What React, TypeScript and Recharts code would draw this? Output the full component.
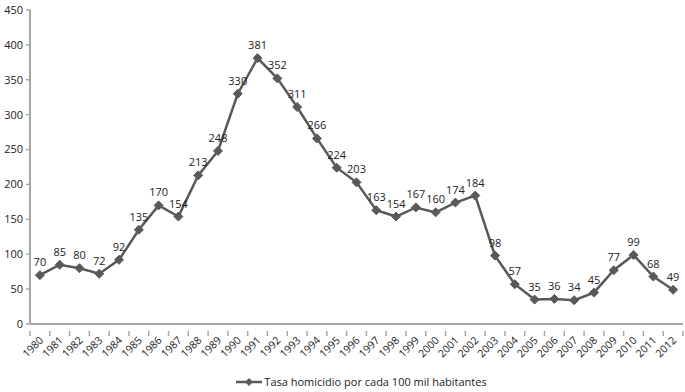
import { LineChart, Line, XAxis, YAxis, LabelList, Legend } from "recharts";

const years = [
  "1980", "1981", "1982", "1983", "1984", "1985", "1986", "1987", "1988", "1989",
  "1990", "1991", "1992", "1993", "1994", "1995", "1996", "1997", "1998", "1999",
  "2000", "2001", "2002", "2003", "2004", "2005", "2006", "2007", "2008", "2009",
  "2010", "2011", "2012",
];

const rates = [
  70, 85, 80, 72, 92, 135, 170, 154, 213, 248,
  330, 381, 352, 311, 266, 224, 203, 163, 154, 167,
  160, 174, 184, 98, 57, 35, 36, 34, 45, 77,
  99, 68, 49,
];

const yTicks = [0, 50, 100, 150, 200, 250, 300, 350, 400, 450];

const seriesName = "Tasa homicidio por cada 100 mil habitantes";

const data = years.map((year, i) => ({ year, value: rates[i] }));

const FONT = "'Open Sans', sans-serif";
const LINE = "#595959";
const AXIS = "#a6a6a6";
const BAND = 653 / years.length;

const Diamond = ({ cx, cy }: any) => {
  if (cx == null || cy == null) return null;
  const r = 4.5;
  return (
    <path
      d={`M${cx},${cy - r} L${cx + r},${cy} L${cx},${cy + r} L${cx - r},${cy} Z`}
      fill={LINE}
      stroke={LINE}
    />
  );
};

const YearTick = ({ x, y, payload, index }: any) => {
  const last = index === years.length - 1;
  return (
    <g>
      <line x1={x - BAND / 2} y1={y - 1} x2={x - BAND / 2} y2={y + 4} stroke={AXIS} strokeWidth={1.5} />
      {last && (
        <line x1={x + BAND / 2} y1={y - 1} x2={x + BAND / 2} y2={y + 4} stroke={AXIS} strokeWidth={1.5} />
      )}
      <text
        x={x + 4}
        y={y + 9}
        textAnchor="end"
        transform={`rotate(-45 ${x + 4} ${y + 9})`}
        fontSize={10.5}
        fontFamily={FONT}
        fill="#222"
      >
        {payload.value}
      </text>
    </g>
  );
};

const LegendContent = () => (
  <div
    style={{
      display: "flex",
      justifyContent: "center",
      alignItems: "center",
      fontFamily: FONT,
      fontSize: 11,
      color: "#222",
      marginLeft: 40,
      marginTop: 2,
    }}
  >
    <svg width={26} height={10} style={{ marginRight: 2 }}>
      <line x1={0} y1={5} x2={26} y2={5} stroke={LINE} strokeWidth={2.5} />
      <path d="M13,1 L17,5 L13,9 L9,5 Z" fill={LINE} />
    </svg>
    <span>{seriesName}</span>
  </div>
);

export default function App() {
  return (
    <div style={{ position: "absolute", left: 0, top: 0, background: "#fff" }}>
      <LineChart
        width={685}
        height={392}
        data={data}
        margin={{ top: 10, right: 2, bottom: 0, left: 0 }}
      >
        <XAxis
          dataKey="year"
          interval={0}
          height={48}
          padding={{ left: BAND / 2, right: BAND / 2 }}
          tick={<YearTick />}
          tickLine={false}
          axisLine={{ stroke: AXIS, strokeWidth: 2 }}
        />
        <YAxis
          width={30}
          domain={[0, 450]}
          ticks={yTicks}
          interval={0}
          tick={{ fontSize: 11, fontFamily: FONT, fill: "#222" }}
          tickSize={4}
          tickMargin={3}
          tickLine={{ stroke: AXIS, strokeWidth: 1.5 }}
          axisLine={{ stroke: AXIS, strokeWidth: 2 }}
        />
        <Legend verticalAlign="bottom" height={20} content={<LegendContent />} />
        <Line
          dataKey="value"
          name={seriesName}
          stroke={LINE}
          strokeWidth={2.5}
          dot={<Diamond />}
          activeDot={false}
          isAnimationActive={false}
        >
          <LabelList
            dataKey="value"
            position="top"
            offset={9}
            style={{ fontSize: 11, fontFamily: FONT, fill: "#222" }}
          />
        </Line>
      </LineChart>
    </div>
  );
}
